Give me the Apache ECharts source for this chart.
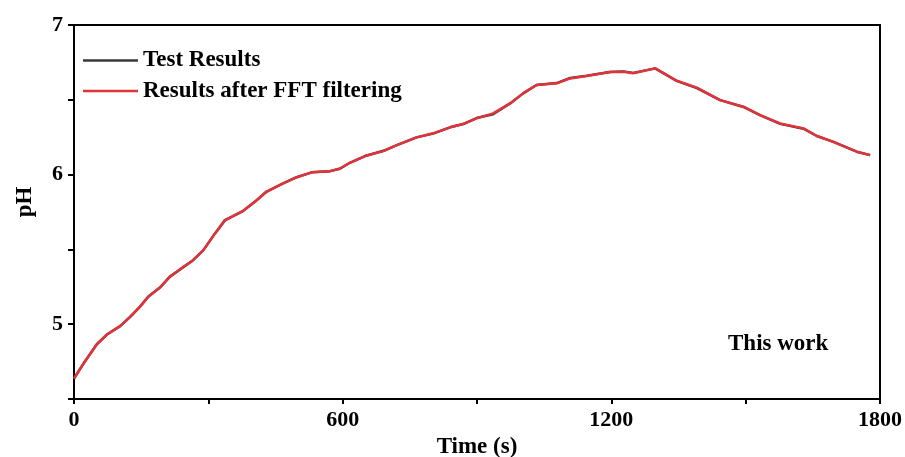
<!DOCTYPE html>
<html>
<head>
<meta charset="utf-8">
<title>pH vs time</title>
<script src="https://cdn.jsdelivr.net/npm/echarts@6/dist/echarts.min.js"></script>
<style>
  html, body { margin: 0; padding: 0; background: #fff; }
  #chart { width: 905px; height: 457px; }
</style>
</head>
<body>
<div id="chart"></div>
<script>
// Sampling times (s)
const timeS = [0, 21, 51, 73, 103, 125, 147, 166, 192, 214, 237, 266, 289, 315, 337, 378, 408,
  430, 467, 497, 531, 572, 594, 616, 650, 691, 721, 765, 802, 840, 869, 899, 936, 974,
  1003, 1033, 1078, 1108, 1145, 1197, 1227, 1249, 1298, 1346, 1391, 1443, 1495, 1532,
  1577, 1629, 1659, 1696, 1748, 1778];

// Measured pH
const testPH = [4.637, 4.735, 4.866, 4.929, 4.987, 5.047, 5.116, 5.185, 5.245, 5.318, 5.366,
  5.428, 5.495, 5.607, 5.694, 5.758, 5.829, 5.887, 5.941, 5.983, 6.015, 6.023, 6.039, 6.079,
  6.124, 6.159, 6.197, 6.249, 6.274, 6.316, 6.338, 6.378, 6.404, 6.476, 6.543, 6.599, 6.612,
  6.646, 6.661, 6.686, 6.690, 6.680, 6.710, 6.627, 6.578, 6.498, 6.452, 6.398, 6.339, 6.307,
  6.258, 6.219, 6.153, 6.130];

// pH after FFT filtering
const filteredPH = [4.637, 4.737, 4.866, 4.931, 4.987, 5.049, 5.116, 5.183, 5.245, 5.316, 5.368,
  5.428, 5.495, 5.607, 5.696, 5.758, 5.829, 5.885, 5.941, 5.981, 6.015, 6.023, 6.041, 6.079,
  6.124, 6.157, 6.197, 6.249, 6.276, 6.316, 6.338, 6.376, 6.409, 6.476, 6.543, 6.599, 6.610,
  6.643, 6.659, 6.686, 6.688, 6.677, 6.710, 6.627, 6.581, 6.498, 6.454, 6.398, 6.342, 6.309,
  6.258, 6.219, 6.153, 6.130];

const xTicks = [0, 600, 1200, 1800];
const yTicks = [5, 6, 7];

const seriesNames = ['Test Results', 'Results after FFT filtering'];

const pairs = (ys) => timeS.map((t, i) => [t, ys[i]]);

const serif = '"Liberation Serif", "Times New Roman", serif';
const black = '#000';

const chart = echarts.init(document.getElementById('chart'), null, { renderer: 'canvas' });

const axisBase = {
  axisLine: { show: true, onZero: false, lineStyle: { color: black, width: 2 } },
  splitLine: { show: false },
};

chart.setOption({
  animation: false,
  backgroundColor: '#fff',
  grid: { left: 74, right: 25, top: 25, bottom: 58, containLabel: false, outerBoundsMode: 'none' },
  legend: {
    orient: 'vertical',
    left: 83,
    top: 49,
    padding: 0,
    itemWidth: 55,
    itemHeight: 2.5,
    itemGap: 7.5,
    icon: 'rect',
    data: seriesNames,
    textStyle: { fontFamily: serif, fontWeight: 'bold', fontSize: 23, color: black },
  },
  xAxis: [
    Object.assign({}, axisBase, {
      type: 'value',
      position: 'bottom',
      min: 0,
      max: 1800,
      interval: 300,
      name: 'Time (s)',
      nameLocation: 'middle',
      nameGap: 24,
      nameTextStyle: { fontFamily: serif, fontWeight: 'bold', fontSize: 23, color: black },
      axisTick: { show: true, length: 5, lineStyle: { color: black, width: 2 } },
      axisLabel: {
        margin: 10,
        fontFamily: serif, fontWeight: 'bold', fontSize: 22, color: black,
        formatter: (v) => (xTicks.includes(v) ? String(v) : ''),
      },
    }),
    Object.assign({}, axisBase, {
      type: 'value',
      position: 'top',
      min: 0,
      max: 1800,
      axisTick: { show: false },
      axisLabel: { show: false },
    }),
  ],
  yAxis: [
    Object.assign({}, axisBase, {
      type: 'value',
      position: 'left',
      min: 4.5,
      max: 7,
      interval: 0.5,
      axisTick: { show: true, length: 6, lineStyle: { color: black, width: 2 } },
      axisLabel: {
        margin: 11,
        fontFamily: serif, fontWeight: 'bold', fontSize: 22, color: black,
        formatter: (v) => (yTicks.includes(v) ? String(v) : ''),
      },
    }),
    Object.assign({}, axisBase, {
      type: 'value',
      position: 'right',
      min: 4.5,
      max: 7,
      axisTick: { show: false },
      axisLabel: { show: false },
    }),
  ],
  graphic: [
    {
      type: 'text',
      x: 25,
      y: 202,
      rotation: Math.PI / 2,
      style: {
        text: 'pH',
        fontFamily: serif, fontWeight: 'bold', fontSize: 23, fill: black,
        align: 'center', verticalAlign: 'middle',
      },
    },
    {
      type: 'text',
      left: 728,
      top: 333,
      style: {
        text: 'This work',
        fontFamily: serif, fontWeight: 'bold', fontSize: 23, fill: black,
      },
    },
  ],
  series: [
    {
      name: seriesNames[0],
      type: 'line',
      data: pairs(testPH),
      showSymbol: false,
      symbol: 'none',
      lineStyle: { color: '#3a3a3a', width: 2.5 },
      itemStyle: { color: '#3a3a3a' },
      z: 2,
    },
    {
      name: seriesNames[1],
      type: 'line',
      data: pairs(filteredPH),
      showSymbol: false,
      symbol: 'none',
      lineStyle: { color: '#e2323a', width: 2.5 },
      itemStyle: { color: '#e2323a' },
      z: 3,
    },
  ],
});
</script>
</body>
</html>
